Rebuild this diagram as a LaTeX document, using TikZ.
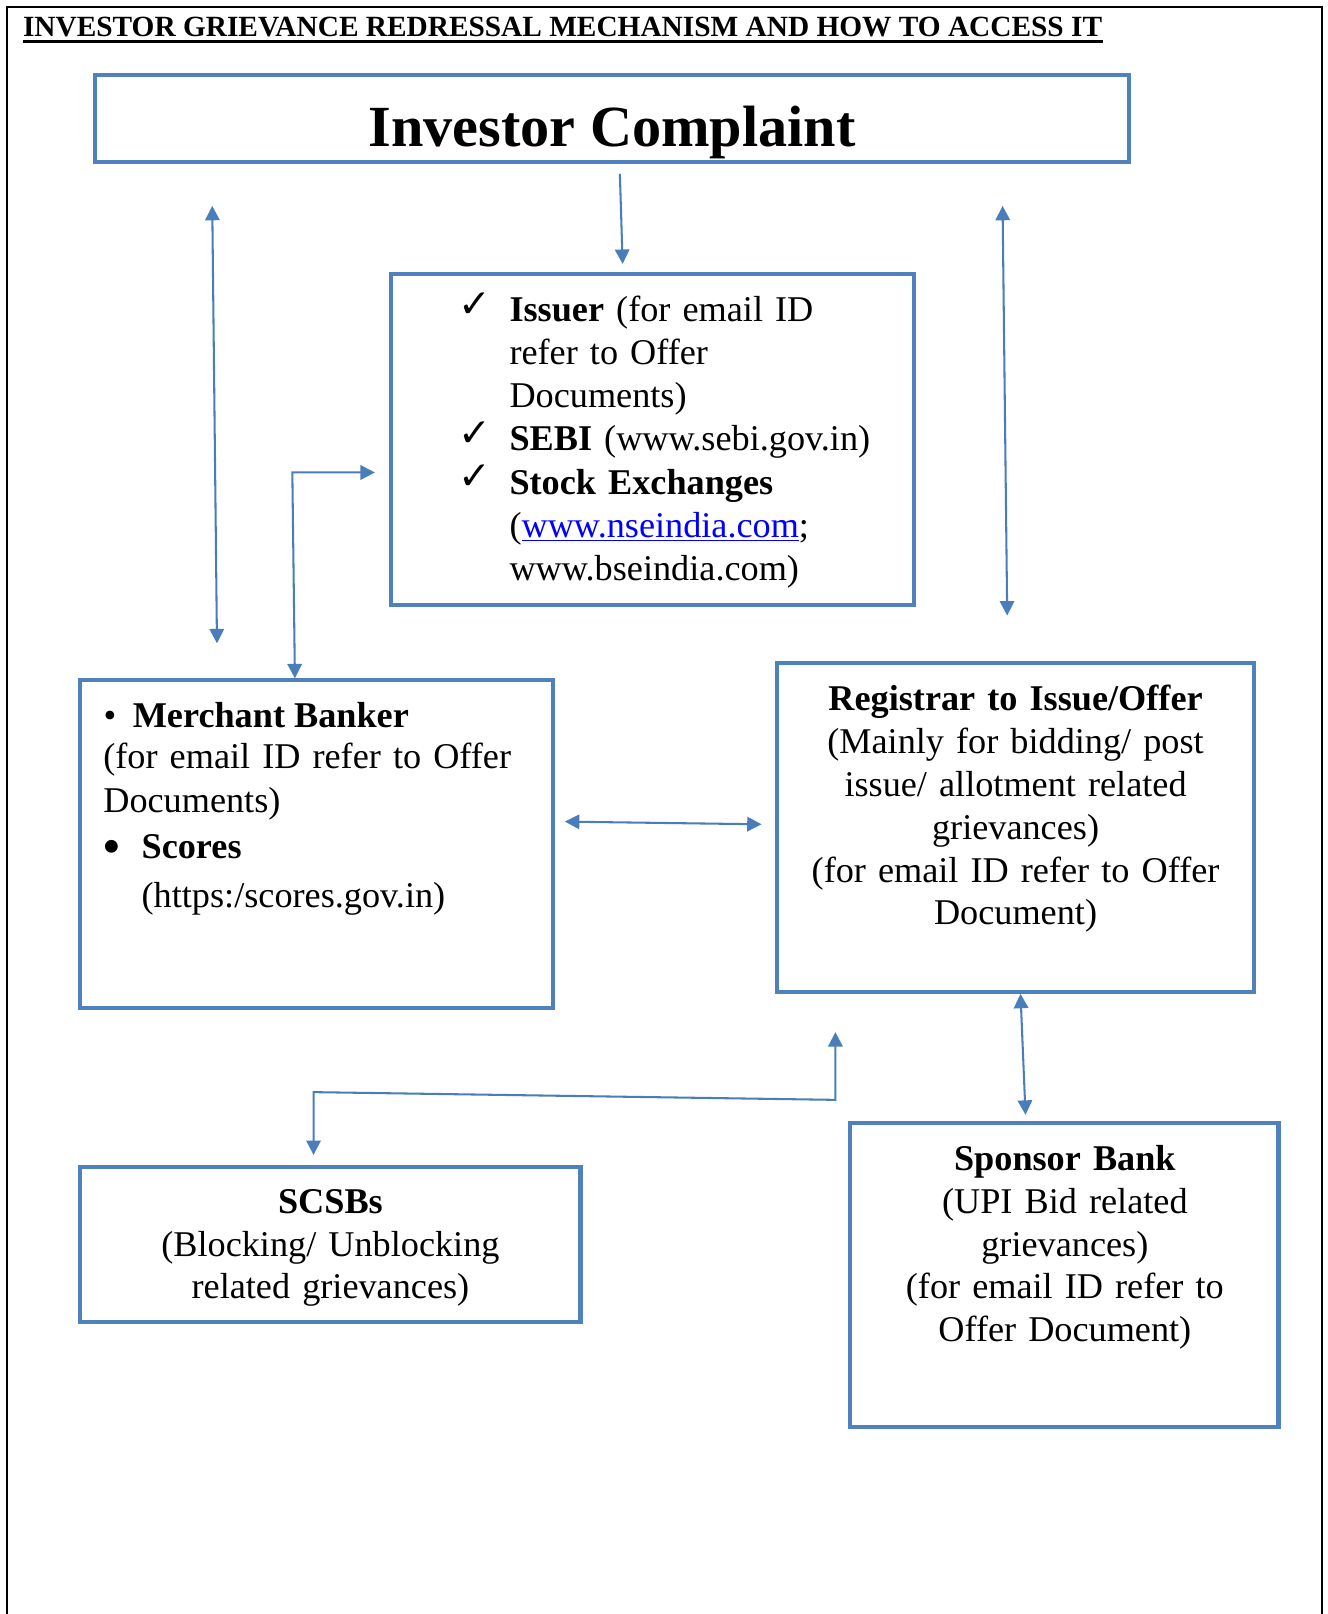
\documentclass[tikz,border=0pt]{standalone}
\usepackage{fontspec}
\setmainfont{Liberation Serif}
\newfontfamily\djv{DejaVu Sans}
\usetikzlibrary{arrows.meta}
\definecolor{boxblue}{HTML}{4F81BD}
\definecolor{arrblue}{HTML}{4A7EBB}
\definecolor{linkblue}{HTML}{0000FF}
\newcommand{\chk}{\leavevmode\llap{\raisebox{2pt}{\djv\fontsize{19}{19}\selectfont ✓}\hspace{9pt}}}
\newcommand{\bul}{\leavevmode\llap{\textbullet\hspace{8pt}}}
\newcommand{\bigbul}{\leavevmode\llap{\raisebox{-3pt}{\fontsize{26}{26}\selectfont\textbullet}\hspace{10pt}}}
\begin{document}
\begin{tikzpicture}[x=0.5pt,y=-0.5pt,
  box/.style={draw=boxblue, line width=2pt, rectangle, inner sep=0pt, outer sep=0pt},
  txt/.style={inner sep=0pt, outer sep=0pt, font=\fontsize{17.6}{21}\selectfont},
  arr/.style={draw=arrblue, line width=1pt, -{Triangle[length=7pt,width=7pt]}},
  darr/.style={draw=arrblue, line width=1pt, {Triangle[length=7pt,width=7pt]}-{Triangle[length=7pt,width=7pt]}}]
\useasboundingbox (0,0) rectangle (1290,1568);
\fill[white] (0,0) rectangle (1290,1568);
% page frame
\draw[line width=1pt] (7,1568) -- (7,7) -- (1284,7) -- (1284,1568);
% heading
\node[anchor=base west, inner sep=0pt, font=\bfseries\fontsize{14.25}{16}\selectfont] (head) at (22,35) {INVESTOR GRIEVANCE REDRESSAL MECHANISM AND HOW TO ACCESS IT};
\draw[line width=1.3pt] ([yshift=-2.8pt]head.base west) -- ([yshift=-2.8pt]head.base east);
% boxes
\node[box, minimum width=502.5pt, minimum height=42pt] (ic) at (594.5,115) {};
\node[box, minimum width=254pt, minimum height=161pt] (iss) at (634,427) {};
\node[box, minimum width=229.5pt, minimum height=159pt] (mb) at (307.5,820) {};
\node[box, minimum width=231.5pt, minimum height=160pt] (reg) at (986.5,804) {};
\node[box, minimum width=243pt, minimum height=75pt] (scsb) at (321,1209) {};
\node[box, minimum width=208pt, minimum height=147.5pt] (spb) at (1034,1238.5) {};
% texts
\node[inner sep=0pt, anchor=base, font=\bfseries\fontsize{28.3}{30}\selectfont] (ictxt) at (594.5,142.5) {Investor Complaint};
\node[txt, anchor=base west, text width=200pt, align=left, font=\fontsize{17.6}{21}\selectfont] (isstxt) at (495,312)
 {\chk\textbf{Issuer} (for email ID\\ refer to Offer\\ Documents)\\ \chk\textbf{SEBI} (www.sebi.gov.in)\\ \chk\textbf{Stock Exchanges}\\ (\textcolor{linkblue}{\underline{www.nseindia.com}};\\ www.bseindia.com)};
\node[txt, anchor=base west] (mb1) at (129,707) {\bul\textbf{Merchant Banker}};
\node[txt, anchor=base west, text width=215pt, align=left, font=\fontsize{17.6}{21}\selectfont] (mb2) at (100.4,747) {(for email ID refer to Offer\\ Documents)};
\node[txt, anchor=base west] (mb3) at (137.6,834) {\bigbul\textbf{Scores}};
\node[txt, anchor=base west] (mb4) at (137.6,882) {(https:/scores.gov.in)};
\node[txt, anchor=base, text width=228pt, align=center, font=\fontsize{17.6}{20.8}\selectfont] (regtxt) at (986.6,690.6)
 {\textbf{Registrar to Issue/Offer}\\ (Mainly for bidding/ post\\ issue/ allotment related\\ grievances)\\ (for email ID refer to Offer\\ Document)};
\node[txt, anchor=base, text width=230pt, align=center, font=\fontsize{17.6}{20.7}\selectfont] (scsbtxt) at (321,1179)
 {\textbf{SCSBs}\\ (Blocking/ Unblocking\\ related grievances)};
\node[txt, anchor=base, text width=200pt, align=center, font=\fontsize{17.6}{20.7}\selectfont] (spbtxt) at (1034.5,1137.5)
 {\textbf{Sponsor Bank}\\ (UPI Bid related\\ grievances)\\ (for email ID refer to\\ Offer Document)};
% connector end points
\coordinate (c1a) at (602.2,169);  \coordinate (c1b) at (604.9,256.4);
\coordinate (c2a) at (206.2,200);  \coordinate (c2b) at (210.8,625);
\coordinate (c3a) at (974,200);    \coordinate (c3b) at (978.5,598);
\coordinate (c4a) at (364.2,459);  \coordinate (c4m) at (284,459);  \coordinate (c4b) at (286.5,659);
\coordinate (c5a) at (548.8,798.2); \coordinate (c5b) at (739.9,800.8);
\coordinate (c6a) at (811.6,1002.7); \coordinate (c6m) at (811.6,1068.5); \coordinate (c6n) at (304.6,1061); \coordinate (c6b) at (304.6,1122);
\coordinate (c7a) at (991.4,965.5); \coordinate (c7b) at (996.3,1083);
% connectors
\draw[arr] (c1a) -- (c1b);
\draw[darr] (c2a) -- (c2b);
\draw[darr] (c3a) -- (c3b);
\draw[darr] (c4a) -- (c4m) -- (c4b);
\draw[darr] (c5a) -- (c5b);
\draw[darr] (c6a) -- (c6m) -- (c6n) -- (c6b);
\draw[darr] (c7a) -- (c7b);
\end{tikzpicture}
\end{document}
